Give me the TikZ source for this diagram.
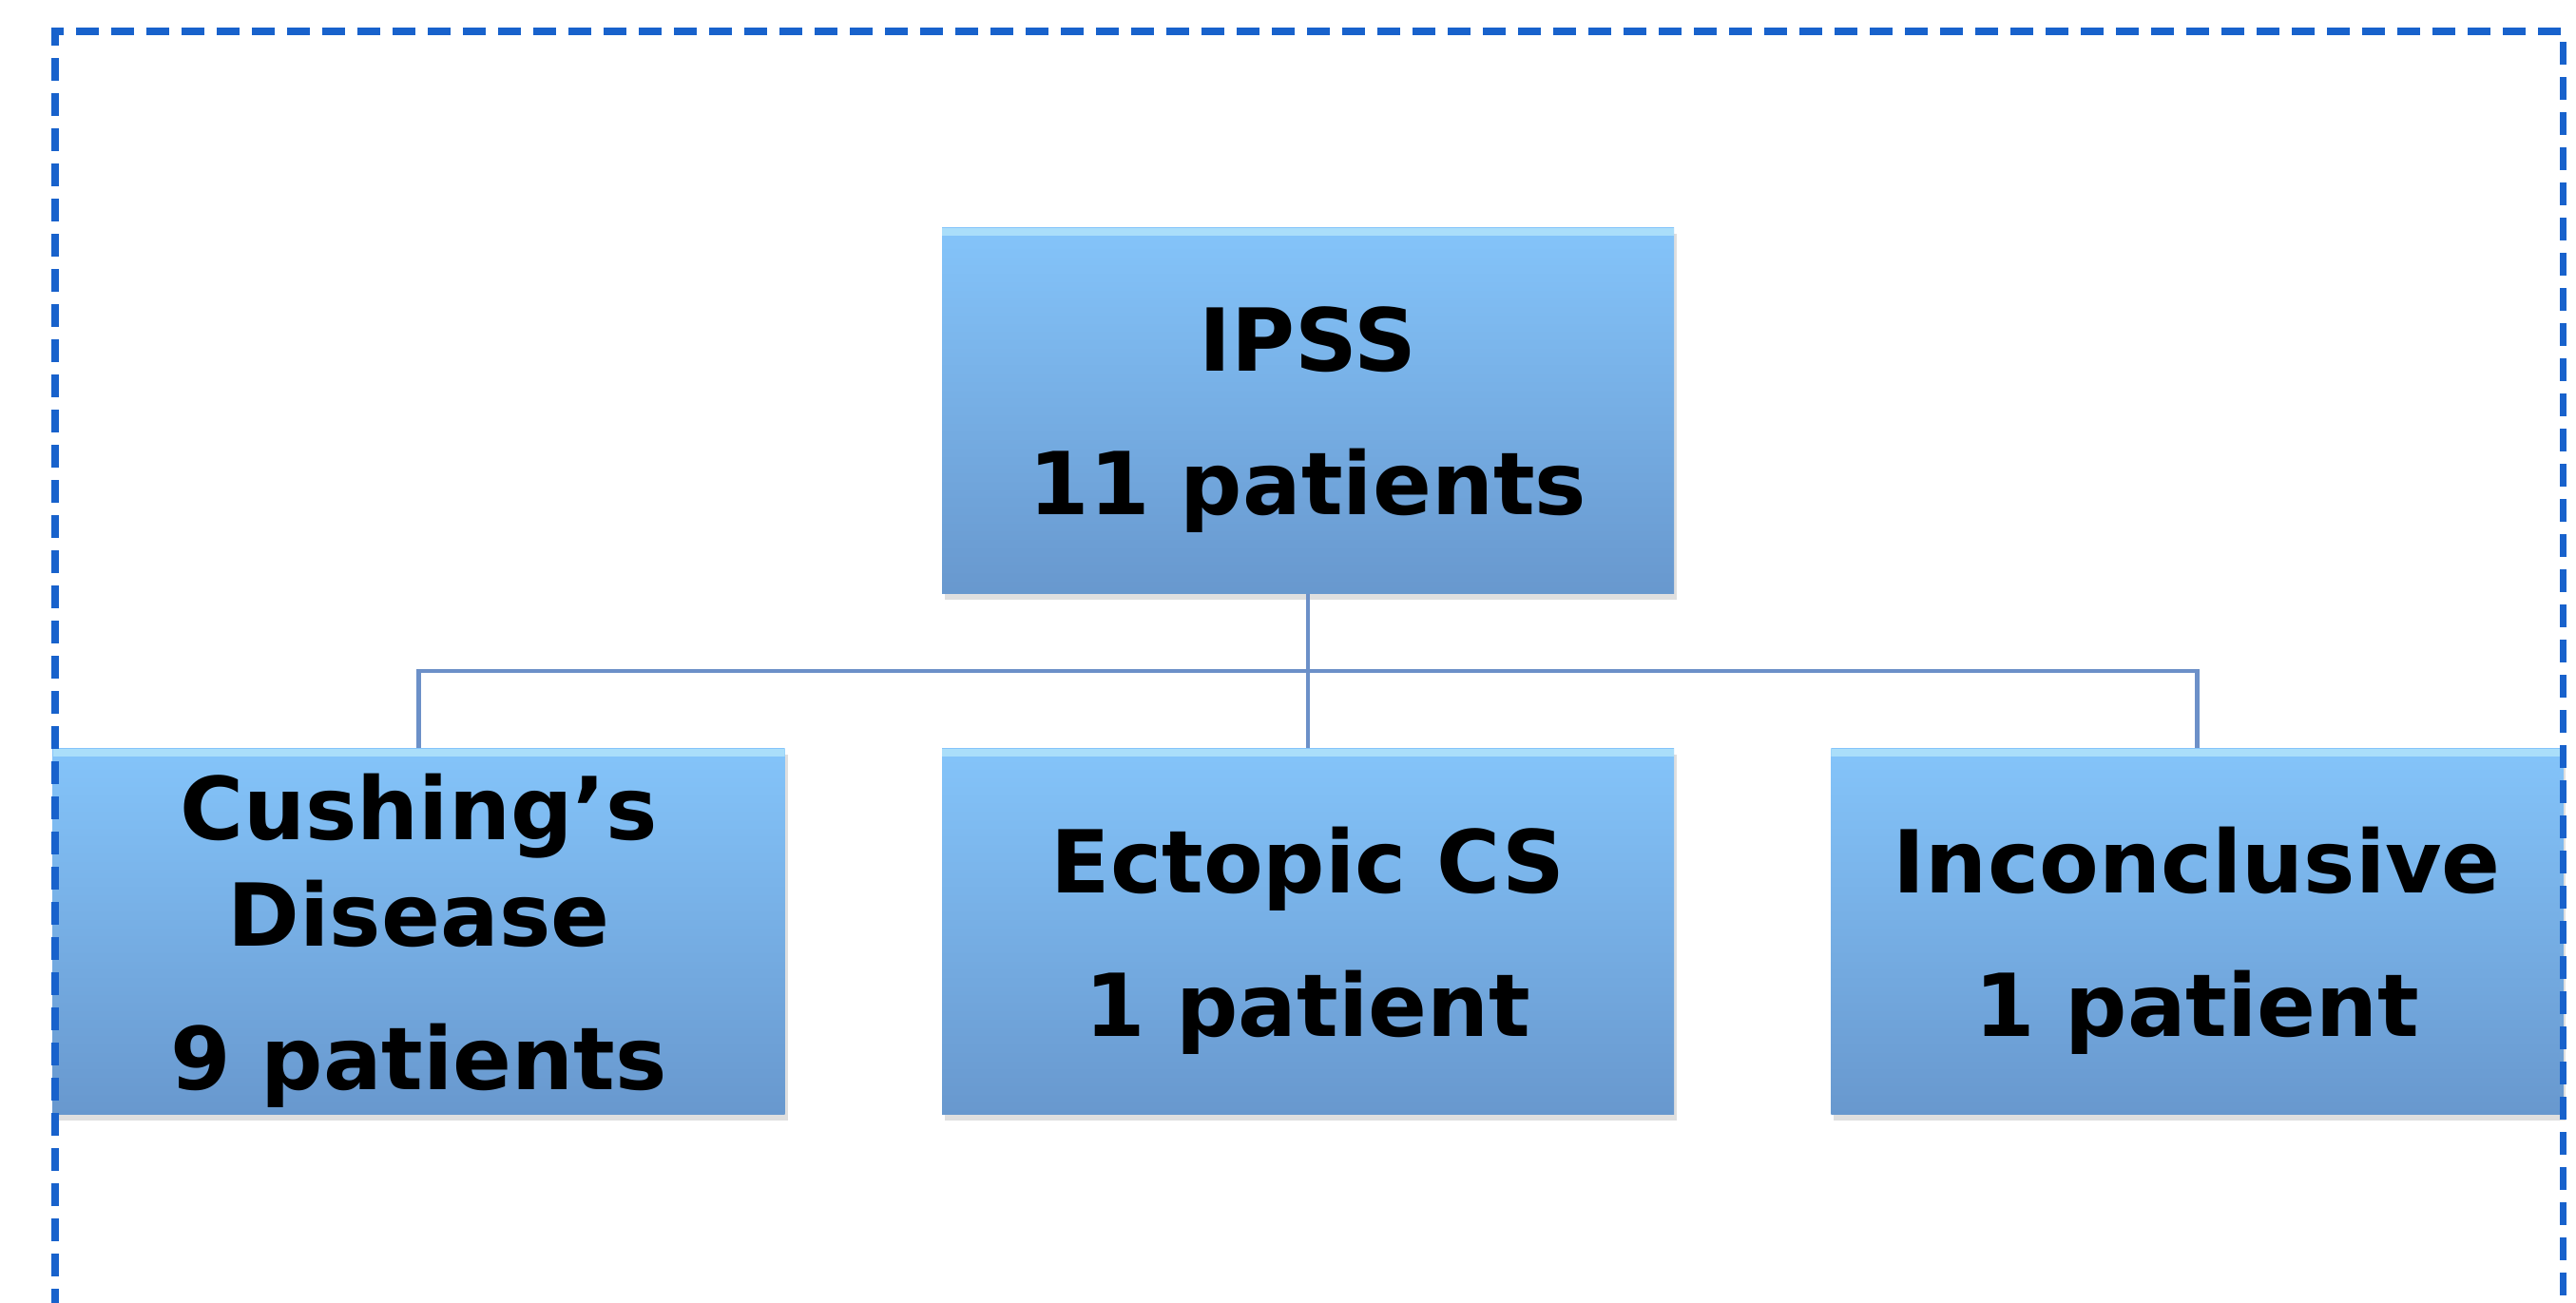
\documentclass[tikz,border=0pt]{standalone}
\usepackage{fontspec}
\setmainfont{DejaVu Sans}
\usepackage{tikz}
\usetikzlibrary{positioning,calc,shadows}

\definecolor{frameblue}{RGB}{24,98,204}
\definecolor{boxtop}{RGB}{132,196,250}
\definecolor{boxbot}{RGB}{104,152,206}
\definecolor{linkblue}{RGB}{108,144,200}
\definecolor{hilite}{RGB}{170,222,250}

\begin{document}
\begin{tikzpicture}[
  catbox/.style={rectangle, minimum width=7.70cm, minimum height=3.85cm, inner sep=0pt,
    top color=boxtop, bottom color=boxbot, align=center, text depth=0pt,
    font=\bfseries\fontsize{26}{32}\selectfont,
    drop shadow={opacity=0.25, shadow xshift=0.03cm, shadow yshift=-0.06cm},
    path picture={\fill[hilite] (path picture bounding box.north west) rectangle ([yshift=-0.08cm]path picture bounding box.north east);}},
  link/.style={draw=linkblue, line width=1.2pt},
  node distance=1.62cm and 1.64cm]
\useasboundingbox (0,0) rectangle (27.1,-13.7);

% top box
\node[catbox] (ipss) at (13.76,-4.32) {IPSS\\[11pt]11 patients};

% three outcomes
\node[catbox, below=of ipss] (ecs) {Ectopic CS\\[11pt]1 patient};
\node[catbox, left=of ecs] (cd) {Cushing’s\\Disease\\[11pt]9 patients};
\node[catbox, right=of ecs] (inc) {Inconclusive\\[11pt]1 patient};

% connectors
\coordinate (bus) at ($(ipss.south)!0.5!(ecs.north)$);
\draw[link] (ipss.south) -- (ecs.north);
\draw[link] (cd.north) |- (bus) -| (inc.north);

% dashed frame
\draw[frameblue, line width=2pt, dash pattern=on 0.24cm off 0.13cm]
  (0.58,-13.8) -- (0.58,-0.33) -- (26.96,-0.33) -- (26.96,-13.8);
\end{tikzpicture}
\end{document}
